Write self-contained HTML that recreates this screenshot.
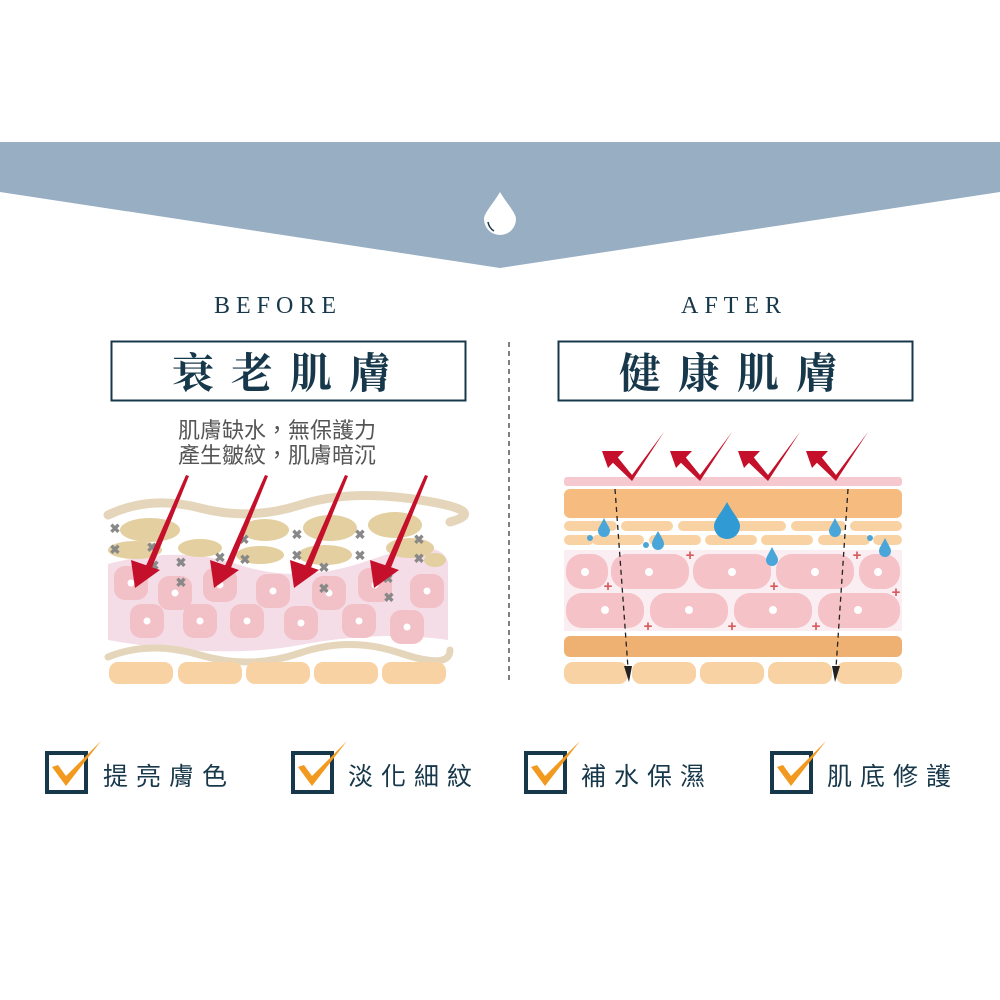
<!DOCTYPE html>
<html><head><meta charset="utf-8"><style>
html,body{margin:0;padding:0;background:#fff;}
svg{display:block}
.t{font-family:"Liberation Serif","Noto Serif CJK SC",serif;fill:#17384a}
.s{font-family:"Liberation Sans","Noto Sans CJK TC",sans-serif;fill:#555}
</style></head><body>
<svg width="1000" height="1000" viewBox="0 0 1000 1000" xmlns="http://www.w3.org/2000/svg">
<polygon points="0,142 1000,142 1000,192 500,268 0,192" fill="#98aec3"/>
<path d="M500,192 C493,204 484,213 484,219 A16,16 0 0 0 516,219 C516,213 507,204 500,192 Z" fill="#fff"/>
<path d="M488,222 Q489,228 494,231" stroke="#17384a" stroke-width="1.5" fill="none"/>

<text class="t" x="278" y="313" font-size="24" text-anchor="middle" letter-spacing="6">BEFORE</text>
<text class="t" x="734" y="313" font-size="24" text-anchor="middle" letter-spacing="6">AFTER</text>
<rect x="111.5" y="341.5" width="354" height="59" fill="none" stroke="#17384a" stroke-width="2"/>
<rect x="558.5" y="341.5" width="354" height="59" fill="none" stroke="#17384a" stroke-width="2"/>
<text class="t" x="290" y="388" font-size="42" font-weight="bold" text-anchor="middle" letter-spacing="17">衰老肌膚</text>
<text class="t" x="737" y="388" font-size="42" font-weight="bold" text-anchor="middle" letter-spacing="17">健康肌膚</text>
<text class="s" x="178" y="438" font-size="22">肌膚缺水，無保護力</text>
<text class="s" x="178" y="463" font-size="22">產生皺紋，肌膚暗沉</text>
<line x1="509" y1="342" x2="509" y2="682" stroke="#555" stroke-width="1.5" stroke-dasharray="5,4"/>

<!-- BEFORE diagram -->
<path d="M108,564 Q180,545 240,565 T370,560 T448,562 L448,640 Q380,630 300,645 T108,640 Z" fill="#f5dde8"/>
<path d="M108,515 Q150,495 200,508 T300,505 T420,500 T450,522" stroke="#e5d6bb" stroke-width="9" fill="none" stroke-linecap="round"/>
<g fill="#e3cfa0">
<ellipse cx="150" cy="530" rx="30" ry="12"/><ellipse cx="135" cy="550" rx="27" ry="9"/>
<ellipse cx="265" cy="530" rx="24" ry="11"/><ellipse cx="200" cy="548" rx="22" ry="9"/><ellipse cx="260" cy="555" rx="24" ry="9"/>
<ellipse cx="330" cy="528" rx="27" ry="13"/><ellipse cx="325" cy="555" rx="27" ry="10"/>
<ellipse cx="395" cy="525" rx="27" ry="13"/><ellipse cx="410" cy="548" rx="24" ry="10"/><ellipse cx="435" cy="560" rx="11" ry="7"/>
</g>
<g fill="#f2c0c7">
<rect x="114" y="566" width="34" height="34" rx="11"/><rect x="158" y="576" width="34" height="34" rx="11"/><rect x="203" y="568" width="34" height="34" rx="11"/>
<rect x="256" y="574" width="34" height="34" rx="11"/><rect x="312" y="576" width="34" height="34" rx="11"/><rect x="358" y="568" width="34" height="34" rx="11"/><rect x="410" y="574" width="34" height="34" rx="11"/>
<rect x="130" y="604" width="34" height="34" rx="11"/><rect x="183" y="604" width="34" height="34" rx="11"/><rect x="230" y="604" width="34" height="34" rx="11"/>
<rect x="284" y="606" width="34" height="34" rx="11"/><rect x="342" y="604" width="34" height="34" rx="11"/><rect x="390" y="610" width="34" height="34" rx="11"/>
</g>
<g fill="#fff">
<circle cx="131" cy="583" r="3.5"/><circle cx="175" cy="593" r="3.5"/><circle cx="220" cy="585" r="3.5"/><circle cx="273" cy="591" r="3.5"/><circle cx="329" cy="593" r="3.5"/><circle cx="375" cy="585" r="3.5"/><circle cx="427" cy="591" r="3.5"/>
<circle cx="147" cy="621" r="3.5"/><circle cx="200" cy="621" r="3.5"/><circle cx="247" cy="621" r="3.5"/><circle cx="301" cy="623" r="3.5"/><circle cx="359" cy="621" r="3.5"/><circle cx="407" cy="627" r="3.5"/>
</g>
<g fill="#888" font-family="Liberation Sans,sans-serif" font-size="13" font-weight="bold" text-anchor="middle">
<text x="115" y="533">✖</text><text x="115" y="554">✖</text><text x="152" y="552">✖</text><text x="154" y="570">✖</text><text x="181" y="567">✖</text><text x="181" y="587">✖</text>
<text x="244" y="544">✖</text><text x="220" y="562">✖</text><text x="245" y="564">✖</text><text x="297" y="539">✖</text><text x="297" y="560">✖</text><text x="324" y="572">✖</text><text x="324" y="593">✖</text>
<text x="360" y="539">✖</text><text x="360" y="560">✖</text><text x="419" y="544">✖</text><text x="419" y="563">✖</text><text x="388" y="583">✖</text><text x="389" y="602">✖</text>
</g>
<path d="M108,657 Q150,640 200,655 T300,653 T400,653 T450,650" stroke="#e5d6bb" stroke-width="7" fill="none" stroke-linecap="round"/>
<g fill="#f9d2a4">
<rect x="109" y="662" width="64" height="22" rx="9"/><rect x="178" y="662" width="64" height="22" rx="9"/><rect x="246" y="662" width="64" height="22" rx="9"/><rect x="314" y="662" width="64" height="22" rx="9"/><rect x="382" y="662" width="64" height="22" rx="9"/>
</g>
<g fill="#c4102a">
<polygon points="186,475 189,476 151,570 145,568"/><polygon points="135,588 131,560 160,570"/>
<polygon points="265,475 268,476 230,570 224,568"/><polygon points="214,588 210,560 239,570"/>
<polygon points="345,475 348,476 310,570 304,568"/><polygon points="294,588 290,560 319,570"/>
<polygon points="425,475 428,476 390,570 384,568"/><polygon points="374,588 370,560 399,570"/>
</g>

<!-- AFTER diagram -->
<rect x="564" y="477" width="338" height="9" rx="3" fill="#f6c9d0"/>
<rect x="564" y="489" width="338" height="29" rx="6" fill="#f6bb7e"/>
<g fill="#f9d2a4">
<rect x="564" y="521" width="53" height="10" rx="5"/><rect x="621" y="521" width="52" height="10" rx="5"/><rect x="678" y="521" width="108" height="10" rx="5"/><rect x="791" y="521" width="55" height="10" rx="5"/><rect x="850" y="521" width="52" height="10" rx="5"/>
<rect x="564" y="535" width="30" height="10" rx="5"/><rect x="592" y="535" width="52" height="10" rx="5"/><rect x="649" y="535" width="52" height="10" rx="5"/><rect x="705" y="535" width="52" height="10" rx="5"/><rect x="761" y="535" width="52" height="10" rx="5"/><rect x="818" y="535" width="52" height="10" rx="5"/><rect x="873" y="535" width="29" height="10" rx="5"/>
</g>
<rect x="564" y="550" width="338" height="81" fill="#fbeef2"/>
<g fill="#f4c2c7">
<rect x="566" y="554" width="42" height="35" rx="16"/><rect x="611" y="554" width="78" height="35" rx="16"/><rect x="693" y="554" width="78" height="35" rx="16"/><rect x="776" y="554" width="78" height="35" rx="16"/><rect x="859" y="554" width="41" height="35" rx="16"/>
<rect x="566" y="593" width="78" height="35" rx="16"/><rect x="650" y="593" width="78" height="35" rx="16"/><rect x="734" y="593" width="78" height="35" rx="16"/><rect x="818" y="593" width="82" height="35" rx="16"/>
</g>
<g fill="#fff">
<circle cx="585" cy="572" r="4"/><circle cx="649" cy="572" r="4"/><circle cx="732" cy="572" r="4"/><circle cx="815" cy="572" r="4"/><circle cx="878" cy="572" r="4"/>
<circle cx="605" cy="610" r="4"/><circle cx="689" cy="610" r="4"/><circle cx="773" cy="610" r="4"/><circle cx="858" cy="610" r="4"/>
</g>
<g fill="#d85a5a" font-family="Liberation Sans,sans-serif" font-size="15" font-weight="bold" text-anchor="middle">
<text x="690" y="560">+</text><text x="608" y="591">+</text><text x="774" y="591">+</text><text x="857" y="560">+</text><text x="896" y="597">+</text>
<text x="648" y="631">+</text><text x="732" y="631">+</text><text x="816" y="631">+</text>
</g>
<g fill="#4aa6d8">
<path d="M604,518 C600,526 598,528 598,531 A6,6 0 0 0 610,531 C610,528 608,526 604,518Z"/>
<path d="M658,531 C654,538 652,541 652,544 A6,6 0 0 0 664,544 C664,541 662,538 658,531Z"/>
<path d="M727,502 C720,515 714,520 714,526 A13,13 0 0 0 740,526 C740,520 734,515 727,502Z" fill="#2f9ad4"/>
<path d="M835,518 C831,526 829,528 829,531 A6,6 0 0 0 841,531 C841,528 839,526 835,518Z"/>
<path d="M772,547 C768,555 766,557 766,560 A6,6 0 0 0 778,560 C778,557 776,555 772,547Z"/>
<path d="M885,538 C881,546 879,548 879,551 A6,6 0 0 0 891,551 C891,548 889,546 885,538Z"/>
<circle cx="590" cy="538" r="3"/><circle cx="646" cy="545" r="3"/><circle cx="870" cy="538" r="3"/>
</g>
<rect x="564" y="636" width="338" height="21" rx="6" fill="#efb171"/>
<g fill="#f9d2a4">
<rect x="564" y="662" width="64" height="22" rx="9"/><rect x="632" y="662" width="64" height="22" rx="9"/><rect x="700" y="662" width="64" height="22" rx="9"/><rect x="768" y="662" width="64" height="22" rx="9"/><rect x="836" y="662" width="66" height="22" rx="9"/>
</g>
<line x1="615" y1="489" x2="628" y2="668" stroke="#222" stroke-width="1.3" stroke-dasharray="5,4"/>
<polygon points="624,666 632,666 629,682" fill="#222"/>
<line x1="848" y1="489" x2="836" y2="668" stroke="#222" stroke-width="1.3" stroke-dasharray="5,4"/>
<polygon points="832,666 840,666 835,682" fill="#222"/>
<g fill="#c4102a">
<path d="M610,460 L632,481 L664,432 L632,475 L615,454 Z"/>
<path d="M678,460 L700,481 L732,432 L700,475 L683,454 Z"/>
<path d="M746,460 L768,481 L800,432 L768,475 L751,454 Z"/>
<path d="M814,460 L836,481 L868,432 L836,475 L819,454 Z"/>
<polygon points="602,451 624,451 608,468"/><polygon points="670,451 692,451 676,468"/><polygon points="738,451 760,451 744,468"/><polygon points="806,451 828,451 812,468"/>
</g>

<!-- checkboxes -->
<g fill="none" stroke="#17384a" stroke-width="4">
<rect x="47" y="753" width="39" height="39"/><rect x="293" y="753" width="39" height="39"/><rect x="526" y="753" width="39" height="39"/><rect x="772" y="753" width="39" height="39"/>
</g>
<g fill="#f29a1f">
<path d="M52,767 L66,786 L101,741 L66,776 L58,765 Z"/>
<path d="M298,767 L312,786 L347,741 L312,776 L304,765 Z"/>
<path d="M531,767 L545,786 L580,741 L545,776 L537,765 Z"/>
<path d="M777,767 L791,786 L826,741 L791,776 L783,765 Z"/>
</g>
<g font-size="25" letter-spacing="8" style="font-family:'Liberation Sans','Noto Sans CJK TC',sans-serif;fill:#17384a">
<text x="103" y="785">提亮膚色</text>
<text x="348" y="785">淡化細紋</text>
<text x="581" y="785">補水保濕</text>
<text x="827" y="785">肌底修護</text>
</g>
</svg>
</body></html>
